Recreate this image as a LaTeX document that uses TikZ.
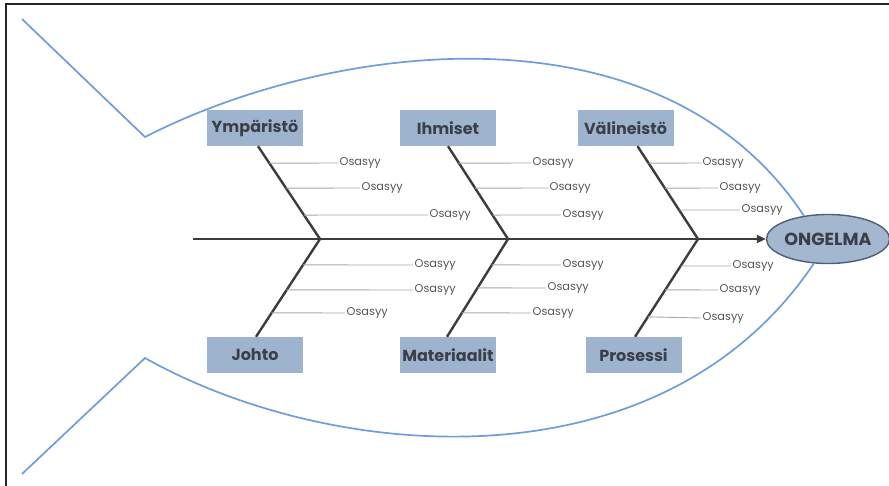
\documentclass[tikz,border=0pt]{standalone}
\usepackage{fontspec}
\setmainfont{Poppins}
\usetikzlibrary{arrows.meta,calc,shapes.geometric}
\definecolor{fishblue}{HTML}{6E9DDA}
\definecolor{boxfill}{HTML}{9EB4CE}
\definecolor{txtdark}{HTML}{3B3F4A}
\definecolor{ellfill}{HTML}{A3B7CF}
\definecolor{elldraw}{HTML}{4D5F78}
\definecolor{bonegray}{HTML}{3C3C3C}
\definecolor{subgray}{HTML}{A8A8A8}
\definecolor{txtgray}{HTML}{555555}
\begin{document}
\begin{tikzpicture}[x=1pt,y=-1pt,
  cat/.style={fill=boxfill, minimum width=96pt, minimum height=36pt, inner sep=0pt,
    font=\fontsize{16}{18}\selectfont\bfseries, text=txtdark},
  cause/.style={font=\fontsize{11.3}{13}\selectfont, text=txtgray, inner sep=1.5pt, anchor=west},
  bone/.style={draw=bonegray, line width=2.4pt},
  spine/.style={draw=bonegray, line width=2.2pt},
  sub/.style={draw=subgray, line width=0.9pt},
  fish/.style={draw=fishblue, line width=1.7pt},
  frame/.style={draw=black!85, line width=2pt}]
\useasboundingbox (0,0) rectangle (889,486);
% frame
\coordinate (f1) at (6,486);
\coordinate (f2) at (6,4);
\coordinate (f3) at (889,4);
\draw[frame] (f1) -- (f2) -- (f3);

% problem
\node[ellipse, draw=elldraw, fill=ellfill, line width=1.4pt, minimum width=107pt,
  minimum height=49pt, inner sep=0pt, font=\fontsize{17.5}{19}\selectfont\bfseries,
  text=txtdark] (O) at (828,239) {ONGELMA};

% fish outline
\coordinate (t1) at (22,19);
\coordinate (t2) at (145,137);
\coordinate (t3) at (22,474);
\coordinate (t4) at (145,358);
\draw[fish] (t1) -- (t2) .. controls (330,42) and (660,-2) .. (O.136);
\draw[fish] (t3) -- (t4) .. controls (330,462) and (660,492) .. (O.240);

% categories
\node[cat] (Y) at (255,128) {Ympäristö};
\node[cat] (I) at (448,128) {Ihmiset};
\node[cat] (V) at (625.5,128) {Välineistö};
\node[cat] (J) at (255,355) {Johto};
\node[cat] (M) at (448,355) {Materiaalit};
\node[cat] (P) at (633.5,355) {Prosessi};

% spine
\coordinate (tail) at (193,239);
\draw[spine, -{Triangle[length=9pt,width=8pt]}] (tail) -- (O.west);

% joints
\coordinate (jY) at (320,239);
\coordinate (jI) at (508,239);
\coordinate (jV) at (698,239);

% bone ends at boxes
\coordinate (bY) at ($(Y.south)+(3,0)$);
\coordinate (bI) at (I.south);
\coordinate (bV) at ($(V.south)+(12,0)$);
\coordinate (bJ) at ($(J.north)+(1,0)$);
\coordinate (bM) at ($(M.north)+(-1,0)$);
\coordinate (bP) at ($(P.north)+(1.5,0)$);

\draw[bone] (bY) -- (jY) -- (bJ);
\draw[bone] (bI) -- (jI) -- (bM);
\draw[bone] (bV) -- (jV) -- (bP);

% sub-causes: Ympäristö
\node[cause] (y1) at (338,163) {Osasyy};
\node[cause] (y2) at (360,188) {Osasyy};
\node[cause] (y3) at (428,215) {Osasyy};
\draw[sub] ($(bY)!0.183!(jY)$) -- (y1.west);
\draw[sub] ($(bY)!0.452!(jY)$) -- (y2.west);
\draw[sub] ($(bY)!0.742!(jY)$) -- (y3.west);

% Ihmiset
\node[cause] (i1) at (531,163) {Osasyy};
\node[cause] (i2) at (548,188) {Osasyy};
\node[cause] (i3) at (561,215) {Osasyy};
\draw[sub] ($(bI)!0.183!(jI)$) -- (i1.west);
\draw[sub] ($(bI)!0.452!(jI)$) -- (i2.west);
\draw[sub] ($(bI)!0.742!(jI)$) -- (i3.west);

% Välineistö
\node[cause] (v1) at (701,163) {Osasyy};
\node[cause] (v2) at (718,188) {Osasyy};
\node[cause] (v3) at (740,210) {Osasyy};
\draw[sub] ($(bV)!0.183!(jV)$) -- (v1.west);
\draw[sub] ($(bV)!0.452!(jV)$) -- (v2.west);
\draw[sub] ($(bV)!0.688!(jV)$) -- (v3.west);

% Johto
\node[cause] (j1) at (413,265) {Osasyy};
\node[cause] (j2) at (413,290) {Osasyy};
\node[cause] (j3) at (345,313) {Osasyy};
\draw[sub] ($(jY)!0.265!(bJ)$) -- (j1.west);
\draw[sub] ($(jY)!0.520!(bJ)$) -- (j2.west);
\draw[sub] ($(jY)!0.755!(bJ)$) -- (j3.west);

% Materiaalit
\node[cause] (m1) at (561,265) {Osasyy};
\node[cause] (m2) at (546,288) {Osasyy};
\node[cause] (m3) at (531,313) {Osasyy};
\draw[sub] ($(jI)!0.265!(bM)$) -- (m1.west);
\draw[sub] ($(jI)!0.500!(bM)$) -- (m2.west);
\draw[sub] ($(jI)!0.755!(bM)$) -- (m3.west);

% Prosessi
\node[cause] (p1) at (731,266) {Osasyy};
\node[cause] (p2) at (718,290) {Osasyy};
\node[cause] (p3) at (701,318) {Osasyy};
\draw[sub] ($(jV)!0.276!(bP)$) -- (p1.west);
\draw[sub] ($(jV)!0.520!(bP)$) -- (p2.west);
\draw[sub] ($(jV)!0.796!(bP)$) -- (p3.west);
\end{tikzpicture}
\end{document}
